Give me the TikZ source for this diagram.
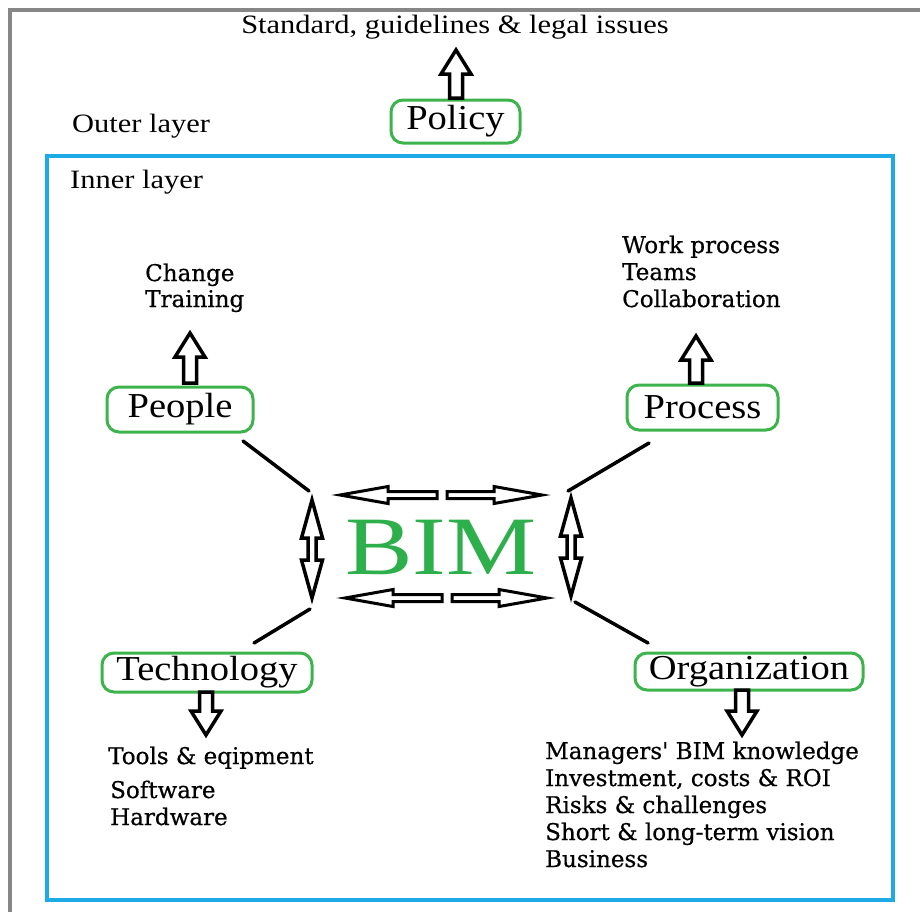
\documentclass[tikz,border=0pt]{standalone}
\usepackage{fontspec}
\setmainfont{Liberation Serif}
\newfontfamily\smallfont[FakeStretch=1.15]{Liberation Serif}
\newfontfamily\boxfont[FakeStretch=1.1]{Liberation Serif}
\newfontfamily\bimfont[FakeStretch=1.22]{Liberation Serif}
\newfontfamily\listfont[FakeBold=0.6]{DejaVu Serif}
\usetikzlibrary{calc}
\definecolor{boxgreen}{RGB}{60,180,75}
\definecolor{bimgreen}{RGB}{45,175,75}
\definecolor{layerblue}{RGB}{30,170,230}
\definecolor{framegray}{RGB}{135,135,135}
\tikzset{
  catbox/.style={draw=boxgreen, line width=3pt, rounded corners=12pt, inner sep=0pt,
    font=\boxfont\fontsize{35}{40}\selectfont, text=black},
  listtext/.style={anchor=base west, inner sep=0pt, font=\listfont\fontsize{23}{27}\selectfont},
  labeltext/.style={inner sep=0pt, font=\smallfont\fontsize{26.5}{30}\selectfont},
  tie/.style={line width=3.5pt, black, line cap=round},
  singlearrow/.style n args={4}{draw=black, line width=#4, fill=white, line join=miter, miter limit=12,
    to path={
      ($(\tikztostart)!#1!90:(\tikztotarget)$)
      -- ($(\tikztotarget)!#3!(\tikztostart)!#1!-90:(\tikztostart)$)
      -- ($(\tikztotarget)!#3!(\tikztostart)!#2!-90:(\tikztostart)$)
      -- (\tikztotarget)
      -- ($(\tikztotarget)!#3!(\tikztostart)!#2!90:(\tikztostart)$)
      -- ($(\tikztotarget)!#3!(\tikztostart)!#1!90:(\tikztostart)$)
      -- ($(\tikztostart)!#1!-90:(\tikztotarget)$)
      -- cycle}},
  doublearrow/.style n args={4}{draw=black, line width=#4, fill=white, line join=miter, miter limit=12,
    to path={
      (\tikztostart)
      -- ($(\tikztostart)!#3!(\tikztotarget)!#2!90:(\tikztotarget)$)
      -- ($(\tikztostart)!#3!(\tikztotarget)!#1!90:(\tikztotarget)$)
      -- ($(\tikztotarget)!#3!(\tikztostart)!#1!-90:(\tikztostart)$)
      -- ($(\tikztotarget)!#3!(\tikztostart)!#2!-90:(\tikztostart)$)
      -- (\tikztotarget)
      -- ($(\tikztotarget)!#3!(\tikztostart)!#2!90:(\tikztostart)$)
      -- ($(\tikztotarget)!#3!(\tikztostart)!#1!90:(\tikztostart)$)
      -- ($(\tikztostart)!#3!(\tikztotarget)!#1!-90:(\tikztotarget)$)
      -- ($(\tikztostart)!#3!(\tikztotarget)!#2!-90:(\tikztotarget)$)
      -- cycle}},
  bigarrow/.style={singlearrow={6.5pt}{15pt}{24pt}{3.5pt}},
  midarrow/.style={singlearrow={3.5pt}{8.5pt}{48pt}{3pt}},
  vdouble/.style={doublearrow={4pt}{10.5pt}{38pt}{3.5pt}}
}
\begin{document}
\begin{tikzpicture}[x=1pt, y=-1pt]
\useasboundingbox (0,0) rectangle (920,911);
\fill[white] (0,0) rectangle (920,911);
% layers
\draw[framegray, line width=4pt] (10,10) rectangle (980,980);
\draw[layerblue, line width=3.5pt] (47,156) rectangle (893,900);
\node[labeltext, anchor=base west] (outer) at (72,132) {Outer layer};
\node[labeltext, anchor=base west] (inner) at (70,188) {Inner layer};
% policy
\node[catbox, minimum width=129pt, minimum height=43pt] (policy) at (455.5,121.5) {Policy};
\node[labeltext, anchor=base] (std) at (455,33) {Standard, guidelines \& legal issues};
\coordinate (policyTail) at (456,98);
\coordinate (policyTip) at (456,50);
\draw[bigarrow] (policyTail) to (policyTip);
% category boxes
\node[catbox, minimum width=146pt, minimum height=45pt] (people) at (180,409.5) {People};
\node[catbox, minimum width=151pt, minimum height=45pt] (process) at (702.5,407.5) {Process};
\node[catbox, minimum width=210pt, minimum height=39pt] (tech) at (207,672.5) {Technology};
\node[catbox, minimum width=228pt, minimum height=37pt] (org) at (749,671.5) {Organization};
% lists
\node[listtext] (change) at (145,281) {Change};
\node[listtext] (training) at (145,307) {Training};
\node[listtext] (work) at (622,253) {Work process};
\node[listtext] (teams) at (622,280) {Teams};
\node[listtext] (collab) at (622,307) {Collaboration};
\node[listtext] (tools) at (108,764) {Tools \& eqipment};
\node[listtext] (software) at (110,798) {Software};
\node[listtext] (hardware) at (110,825) {Hardware};
\node[listtext] (org1) at (545,759) {Managers' BIM knowledge};
\node[listtext] (org2) at (545,786) {Investment, costs \& ROI};
\node[listtext] (org3) at (545,813) {Risks \& challenges};
\node[listtext] (org4) at (545,840) {Short \& long-term vision};
\node[listtext] (org5) at (545,867) {Business};
% arrows of the categories
\coordinate (peopleTail) at (190,383);
\coordinate (peopleTip) at (190,333);
\coordinate (processTail) at (696,383);
\coordinate (processTip) at (696,336);
\coordinate (techTail) at (206,692);
\coordinate (techTip) at (206,735);
\coordinate (orgTail) at (742,690);
\coordinate (orgTip) at (742,735);
\draw[bigarrow] (peopleTail) to (peopleTip);
\draw[bigarrow] (processTail) to (processTip);
\draw[bigarrow] (techTail) to (techTip);
\draw[bigarrow] (orgTail) to (orgTip);
% BIM
\node[inner sep=0pt, anchor=base, text=bimgreen, font=\bimfont\fontsize{83}{90}\selectfont] (bim) at (441,574) {BIM};
% horizontal arrows
\coordinate (tlTail) at (437,495);
\coordinate (tlTip) at (340,495);
\coordinate (trTail) at (447,495);
\coordinate (trTip) at (542,495);
\coordinate (blTail) at (442,598);
\coordinate (blTip) at (345,598);
\coordinate (brTail) at (452,598);
\coordinate (brTip) at (547,598);
\draw[midarrow] (tlTail) to (tlTip);
\draw[midarrow] (trTail) to (trTip);
\draw[midarrow] (blTail) to (blTip);
\draw[midarrow] (brTail) to (brTip);
% vertical double arrows
\coordinate (lvTop) at (312,500);
\coordinate (lvBot) at (312,598);
\coordinate (rvTop) at (571,498);
\coordinate (rvBot) at (571,596);
\draw[vdouble] (lvTop) to (lvBot);
\draw[vdouble] (rvTop) to (rvBot);
% ties
\coordinate (peopleTie) at (243,441);
\coordinate (peopleHub) at (309,491);
\coordinate (processTie) at (649,443);
\coordinate (processHub) at (568,491);
\coordinate (techTie) at (254,643);
\coordinate (techHub) at (310,609);
\coordinate (orgTie) at (648,643);
\coordinate (orgHub) at (575,602);
\draw[tie] (peopleTie) -- (peopleHub);
\draw[tie] (processTie) -- (processHub);
\draw[tie] (techTie) -- (techHub);
\draw[tie] (orgTie) -- (orgHub);
\end{tikzpicture}
\end{document}
